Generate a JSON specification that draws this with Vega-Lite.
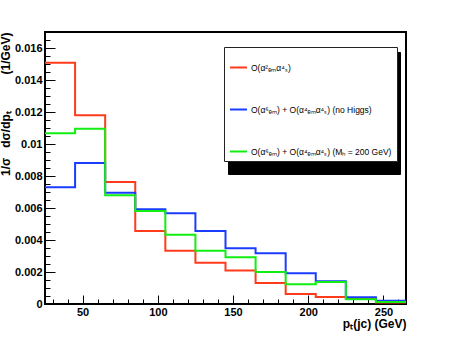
{
  "$schema": "https://vega.github.io/schema/vega-lite/v6.json",
  "width": 361,
  "height": 272,
  "autosize": "none",
  "padding": {"left": 45, "top": 32, "right": 46, "bottom": 34},
  "background": "white",
  "config": {"view": {"stroke": "black", "strokeWidth": 2}, "font": "Liberation Sans"},
  "data": {"values": [
    {"x": 25, "y": 0.01508, "s": "O(α²ₑₘα⁴ₛ)"},
    {"x": 45, "y": 0.01179, "s": "O(α²ₑₘα⁴ₛ)"},
    {"x": 65, "y": 0.00763, "s": "O(α²ₑₘα⁴ₛ)"},
    {"x": 85, "y": 0.00456, "s": "O(α²ₑₘα⁴ₛ)"},
    {"x": 105, "y": 0.00333, "s": "O(α²ₑₘα⁴ₛ)"},
    {"x": 125, "y": 0.00258, "s": "O(α²ₑₘα⁴ₛ)"},
    {"x": 145, "y": 0.0021, "s": "O(α²ₑₘα⁴ₛ)"},
    {"x": 165, "y": 0.00131, "s": "O(α²ₑₘα⁴ₛ)"},
    {"x": 185, "y": 0.000625, "s": "O(α²ₑₘα⁴ₛ)"},
    {"x": 205, "y": 0.00044, "s": "O(α²ₑₘα⁴ₛ)"},
    {"x": 225, "y": 0.00033, "s": "O(α²ₑₘα⁴ₛ)"},
    {"x": 245, "y": 0.0001, "s": "O(α²ₑₘα⁴ₛ)"},
    {"x": 265, "y": 0.0001, "s": "O(α²ₑₘα⁴ₛ)"},
    {"x": 25, "y": 0.0073, "s": "O(α⁶ₑₘ) + O(α⁴ₑₘα⁴ₛ) (no Higgs)"},
    {"x": 45, "y": 0.00881, "s": "O(α⁶ₑₘ) + O(α⁴ₑₘα⁴ₛ) (no Higgs)"},
    {"x": 65, "y": 0.00696, "s": "O(α⁶ₑₘ) + O(α⁴ₑₘα⁴ₛ) (no Higgs)"},
    {"x": 85, "y": 0.00592, "s": "O(α⁶ₑₘ) + O(α⁴ₑₘα⁴ₛ) (no Higgs)"},
    {"x": 105, "y": 0.00567, "s": "O(α⁶ₑₘ) + O(α⁴ₑₘα⁴ₛ) (no Higgs)"},
    {"x": 125, "y": 0.00456, "s": "O(α⁶ₑₘ) + O(α⁴ₑₘα⁴ₛ) (no Higgs)"},
    {"x": 145, "y": 0.00348, "s": "O(α⁶ₑₘ) + O(α⁴ₑₘα⁴ₛ) (no Higgs)"},
    {"x": 165, "y": 0.00317, "s": "O(α⁶ₑₘ) + O(α⁴ₑₘα⁴ₛ) (no Higgs)"},
    {"x": 185, "y": 0.00192, "s": "O(α⁶ₑₘ) + O(α⁴ₑₘα⁴ₛ) (no Higgs)"},
    {"x": 205, "y": 0.00142, "s": "O(α⁶ₑₘ) + O(α⁴ₑₘα⁴ₛ) (no Higgs)"},
    {"x": 225, "y": 0.00042, "s": "O(α⁶ₑₘ) + O(α⁴ₑₘα⁴ₛ) (no Higgs)"},
    {"x": 245, "y": 0.00021, "s": "O(α⁶ₑₘ) + O(α⁴ₑₘα⁴ₛ) (no Higgs)"},
    {"x": 265, "y": 0.00021, "s": "O(α⁶ₑₘ) + O(α⁴ₑₘα⁴ₛ) (no Higgs)"},
    {"x": 25, "y": 0.01067, "s": "O(α⁶ₑₘ) + O(α⁴ₑₘα⁴ₛ) (Mₕ = 200 GeV)"},
    {"x": 45, "y": 0.01096, "s": "O(α⁶ₑₘ) + O(α⁴ₑₘα⁴ₛ) (Mₕ = 200 GeV)"},
    {"x": 65, "y": 0.00679, "s": "O(α⁶ₑₘ) + O(α⁴ₑₘα⁴ₛ) (Mₕ = 200 GeV)"},
    {"x": 85, "y": 0.00581, "s": "O(α⁶ₑₘ) + O(α⁴ₑₘα⁴ₛ) (Mₕ = 200 GeV)"},
    {"x": 105, "y": 0.00433, "s": "O(α⁶ₑₘ) + O(α⁴ₑₘα⁴ₛ) (Mₕ = 200 GeV)"},
    {"x": 125, "y": 0.00333, "s": "O(α⁶ₑₘ) + O(α⁴ₑₘα⁴ₛ) (Mₕ = 200 GeV)"},
    {"x": 145, "y": 0.00292, "s": "O(α⁶ₑₘ) + O(α⁴ₑₘα⁴ₛ) (Mₕ = 200 GeV)"},
    {"x": 165, "y": 0.002, "s": "O(α⁶ₑₘ) + O(α⁴ₑₘα⁴ₛ) (Mₕ = 200 GeV)"},
    {"x": 185, "y": 0.00123, "s": "O(α⁶ₑₘ) + O(α⁴ₑₘα⁴ₛ) (Mₕ = 200 GeV)"},
    {"x": 205, "y": 0.00138, "s": "O(α⁶ₑₘ) + O(α⁴ₑₘα⁴ₛ) (Mₕ = 200 GeV)"},
    {"x": 225, "y": 0.00029, "s": "O(α⁶ₑₘ) + O(α⁴ₑₘα⁴ₛ) (Mₕ = 200 GeV)"},
    {"x": 245, "y": 0.000125, "s": "O(α⁶ₑₘ) + O(α⁴ₑₘα⁴ₛ) (Mₕ = 200 GeV)"},
    {"x": 265, "y": 0.000125, "s": "O(α⁶ₑₘ) + O(α⁴ₑₘα⁴ₛ) (Mₕ = 200 GeV)"}
  ]},
  "layer": [
    {
      "mark": {"type": "point", "opacity": 0},
      "encoding": {
        "x": {"field": "x", "type": "quantitative",
          "scale": {"domain": [25, 265], "nice": false, "zero": false},
          "axis": {"orient": "bottom", "values": [30,40,60,70,80,90,110,120,130,140,160,170,180,190,210,220,230,240,260], "labels": false, "domain": false, "grid": false, "title": null, "tickSize": -5, "tickColor": "black", "tickWidth": 1}},
        "y": {"field": "y", "type": "quantitative",
          "scale": {"domain": [0, 0.017], "nice": false, "zero": false},
          "axis": {"orient": "left", "values": [0.0005,0.001,0.0015,0.0025,0.003,0.0035,0.0045,0.005,0.0055,0.0065,0.007,0.0075,0.0085,0.009,0.0095,0.0105,0.011,0.0115,0.0125,0.013,0.0135,0.0145,0.015,0.0155,0.0165], "labels": false, "domain": false, "grid": false, "title": null, "tickSize": -5, "tickColor": "black", "tickWidth": 1}},
        "shape": {"field": "s", "type": "nominal",
          "scale": {"domain": ["O(α⁶ₑₘ) + O(α⁴ₑₘα⁴ₛ) (Mₕ = 200 GeV)", "O(α⁶ₑₘ) + O(α⁴ₑₘα⁴ₛ) (no Higgs)", "O(α²ₑₘα⁴ₛ)"]},
          "legend": {"orient": "none", "legendX": 183, "legendY": 20, "zindex": 0, "title": " ", "titleFontSize": 1, "titlePadding": 5, "fillColor": "black", "strokeColor": "black", "padding": 5, "symbolType": "stroke", "symbolSize": 289, "symbolOpacity": 0, "symbolStrokeWidth": 0, "rowPadding": 28, "labelExpr": "''", "labelFontSize": 8.5, "labelOffset": 145}}
      }
    },
    {
      "mark": {"type": "line", "interpolate": "step-after", "strokeWidth": 2},
      "encoding": {
        "x": {"field": "x", "type": "quantitative",
          "scale": {"domain": [25, 265], "nice": false, "zero": false},
          "axis": {"orient": "bottom", "values": [50,100,150,200,250], "tickSize": -9, "tickColor": "black", "tickWidth": 1, "domain": false, "grid": false,
            "labelFont": "Liberation Sans", "labelFontWeight": "bold", "labelFontSize": 11, "labelColor": "black", "labelPadding": 11,
            "title": "pₜ(jc) (GeV)", "titleAnchor": "end", "titleFont": "Liberation Sans", "titleFontWeight": "bold", "titleFontSize": 12, "titleColor": "black", "titlePadding": 1}},
        "y": {"field": "y", "type": "quantitative",
          "scale": {"domain": [0, 0.017], "nice": false, "zero": false},
          "axis": {"orient": "left", "values": [0,0.002,0.004,0.006,0.008,0.01,0.012,0.014,0.016], "labelExpr": "'' + datum.value", "tickSize": -10, "tickColor": "black", "tickWidth": 1, "domain": false, "grid": false,
            "labelFont": "Liberation Sans", "labelFontWeight": "bold", "labelFontSize": 11, "labelColor": "black", "labelPadding": 13,
            "title": "1/σ\u00a0\u00a0\u00a0dσ/dpₜ\u00a0\u00a0\u00a0\u00a0\u00a0\u00a0\u00a0\u00a0\u00a0\u00a0\u00a0(1/GeV)", "titleAnchor": "end", "titleFont": "Liberation Sans", "titleFontWeight": "bold", "titleFontSize": 12, "titleColor": "black", "titlePadding": 2}},
        "color": {"field": "s", "type": "nominal",
          "scale": {"domain": ["O(α²ₑₘα⁴ₛ)", "O(α⁶ₑₘ) + O(α⁴ₑₘα⁴ₛ) (no Higgs)", "O(α⁶ₑₘ) + O(α⁴ₑₘα⁴ₛ) (Mₕ = 200 GeV)"], "range": ["#ff3b1c", "#1a3cff", "#11ee11"]},
          "legend": {"orient": "none", "legendX": 179, "legendY": 15, "zindex": 1, "title": " ", "titleFontSize": 1, "titlePadding": 5, "fillColor": "white", "strokeColor": "#222222", "padding": 5, "symbolType": "stroke", "symbolSize": 289, "symbolStrokeWidth": 2, "rowPadding": 28, "labelFontSize": 8.5, "labelFont": "Liberation Sans", "labelColor": "black", "labelOffset": 3}}
      }
    }
  ],
  "resolve": {"axis": {"x": "independent", "y": "independent"}, "legend": {"color": "independent", "shape": "independent"}}
}
